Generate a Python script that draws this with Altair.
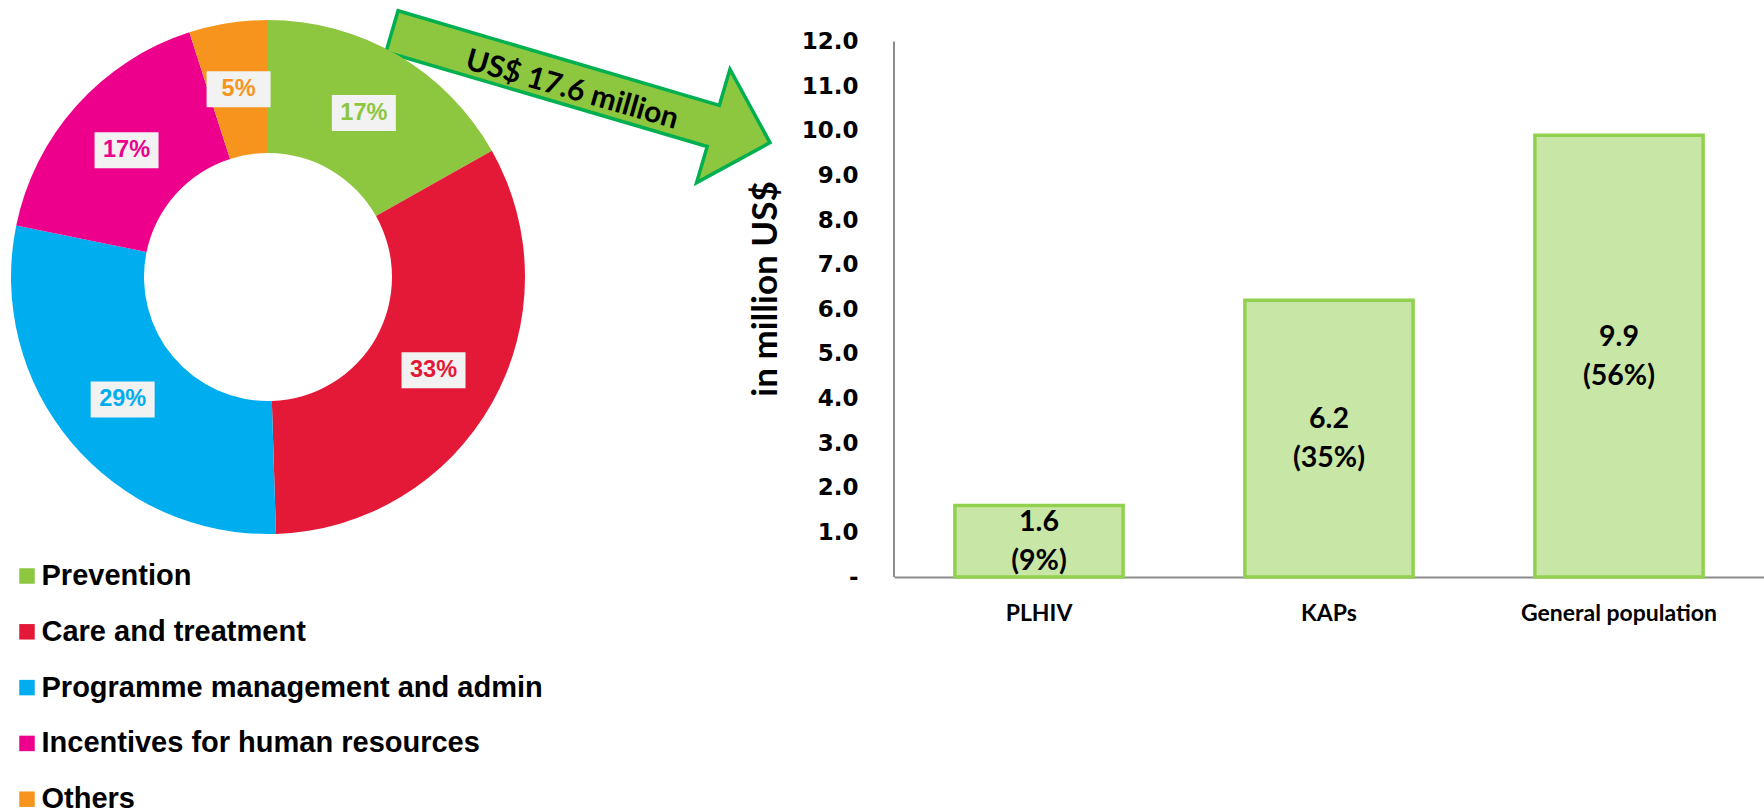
import altair as alt
import pandas as pd

# Share of spending by programme area (percent)
categories = [
    "Prevention",
    "Care and treatment",
    "Programme management and admin",
    "Incentives for human resources",
    "Others",
]
shares = [17, 33, 29, 17, 5]
category_colors = ["#8DC63F", "#E31937", "#00AEEF", "#EC008C", "#F7941D"]

# Prevention spending by population group, in million US$
groups = ["PLHIV", "KAPs", "General population"]
amounts = [1.6, 6.2, 9.9]
group_shares = [9, 35, 56]

total_label = "US$ 17.6 million"
y_ticks = list(range(0, 13))

# ---------------------------------------------------------------- donut
CX, CY = 268, 277          # donut centre (px)
R_OUT, R_IN, R_LAB = 257, 124, 190
BOX_W, BOX_H = 64, 36      # label background box

donut_df = pd.DataFrame({
    "category": categories,
    "share": shares,
    "hex": category_colors,
    "order": list(range(len(categories))),
})

color_scale = alt.Scale(domain=categories, range=category_colors)

arcs = alt.Chart(donut_df).mark_arc(innerRadius=R_IN, outerRadius=R_OUT).encode(
    theta=alt.Theta("share:Q", stack=True),
    order=alt.Order("order:Q"),
    color=alt.Color(
        "category:N",
        scale=color_scale,
        sort=categories,
        legend=alt.Legend(
            title=None,
            orient="none",
            legendX=12.5,
            legendY=561.5,
            direction="vertical",
            symbolType="square",
            symbolSize=240,
            symbolStrokeWidth=0,
            symbolOpacity=1,
            labelFont="Liberation Sans",
            labelFontWeight="bold",
            labelFontSize=29,
            labelColor="black",
            labelOffset=0,
            rowPadding=25.8,
            padding=0,
            labelLimit=800,
        ),
    ),
    x=alt.value(CX),
    y=alt.value(CY),
)

# label positions at the middle angle of each slice
label_base = alt.Chart(donut_df).transform_window(
    cum="sum(share)", sort=[alt.SortField("order")], frame=[None, 0]
).transform_joinaggregate(
    total="sum(share)"
).transform_calculate(
    mid="(datum.cum - datum.share / 2) / datum.total * 2 * PI",
    lx=f"{CX} + {R_LAB} * sin(datum.mid)",
    ly=f"{CY} - {R_LAB} * cos(datum.mid)",
    bx1=f"datum.lx - {BOX_W / 2}",
    bx2=f"datum.lx + {BOX_W / 2}",
    by1=f"datum.ly - {BOX_H / 2}",
    by2=f"datum.ly + {BOX_H / 2}",
    txt="datum.share + '%'",
)

label_boxes = label_base.mark_rect(fill="#F2F2F2").encode(
    x=alt.X("bx1:Q", scale=None, axis=None),
    x2="bx2:Q",
    y=alt.Y("by1:Q", scale=None, axis=None),
    y2="by2:Q",
)

label_texts = label_base.mark_text(
    font="Liberation Sans", fontWeight="bold", fontSize=23.5, baseline="middle"
).encode(
    x=alt.X("lx:Q", scale=None, axis=None),
    y=alt.Y("ly:Q", scale=None, axis=None),
    text="txt:N",
    color=alt.Color("hex:N", scale=None),
)

# block arrow pointing from the prevention slice to the bar chart
ARROW_PATH = "M-1,-0.109 L0.70,-0.109 L0.70,-0.30 L1,0 L0.70,0.30 L0.70,0.109 L-1,0.109 Z"
arrow_df = pd.DataFrame({"label": [total_label]})

arrow = alt.Chart(arrow_df).mark_point(
    shape=ARROW_PATH,
    size=394 ** 2,
    angle=16.4,
    filled=True,
    fill="#8DC63F",
    stroke="#00B050",
    strokeWidth=3.5,
    opacity=1,
    fillOpacity=1,
    strokeOpacity=1,
).encode(x=alt.value(581), y=alt.value(87))

arrow_text = alt.Chart(arrow_df).mark_text(
    font="Lato", fontWeight="bold", fontSize=30, angle=16, color="black",
    align="center", baseline="middle",
).encode(x=alt.value(572), y=alt.value(90), text="label:N")

left = alt.layer(arrow, arcs, label_boxes, label_texts, arrow_text).properties(
    width=560, height=577
)

# ---------------------------------------------------------------- bars
bar_df = pd.DataFrame({"group": groups, "amount": amounts, "pct": group_shares})

y_scale = alt.Scale(domain=[0, 12.93], nice=False, zero=True)
x_enc = alt.X(
    "group:N",
    sort=groups,
    scale=alt.Scale(paddingInner=0.42, paddingOuter=0.21),
    axis=alt.Axis(
        title=None,
        labelAngle=0,
        labelFont="Lato",
        labelFontWeight="bold",
        labelFontSize=23,
        labelColor="black",
        labelBaseline="middle",
        labelPadding=36,
        labelLimit=400,
        ticks=False,
        tickSize=0,
        domain=True,
        domainColor="#8C8C8C",
        domainWidth=2,
        grid=False,
    ),
)

bars = alt.Chart(bar_df).mark_bar(
    fill="#C8E7A7", stroke="#92D050", strokeWidth=3.5
).encode(
    x=x_enc,
    y=alt.Y(
        "amount:Q",
        scale=y_scale,
        axis=alt.Axis(
            values=y_ticks,
            labelExpr="datum.value == 0 ? '-' : format(datum.value, '.1f')",
            labelFont="DejaVu Sans",
            labelFontWeight="bold",
            labelFontSize=23,
            labelColor="black",
            labelPadding=36,
            ticks=False,
            tickSize=0,
            domain=False,
            grid=False,
            title="in million US$",
            titleFont="Lato",
            titleFontWeight="bold",
            titleFontSize=35,
            titleColor="black",
            titleX=-129,
            titleBaseline="middle",
        ),
    ),
)

# two-line label centred in each bar: amount above, share below
label_src = alt.Chart(bar_df).transform_calculate(
    mid="datum.amount / 2",
    amount_txt="format(datum.amount, '.1f')",
    pct_txt="'(' + datum.pct + '%)'",
)
label_style = dict(font="Lato", fontWeight="bold", fontSize=28.5,
                   baseline="middle", color="black")

amount_labels = label_src.mark_text(dy=-19.5, **label_style).encode(
    x=alt.X("group:N", sort=groups),
    y=alt.Y("mid:Q", scale=y_scale),
    text="amount_txt:N",
)
pct_labels = label_src.mark_text(dy=19.5, **label_style).encode(
    x=alt.X("group:N", sort=groups),
    y=alt.Y("mid:Q", scale=y_scale),
    text="pct_txt:N",
)

axis_df = pd.DataFrame({"lo": [y_ticks[0]], "hi": [y_ticks[-1]]})
y_line = alt.Chart(axis_df).mark_rule(color="#8C8C8C", strokeWidth=2).encode(
    x=alt.value(0),
    y=alt.Y("lo:Q", scale=y_scale),
    y2="hi:Q",
)

right = alt.layer(bars, amount_labels, pct_labels, y_line).properties(
    width=870, height=577
)

chart = alt.hconcat(
    left, right, spacing=334, bounds="flush", padding=0, background="white"
).configure_view(strokeWidth=0, stroke=None)

chart.save("out.html", embed_options={"renderer": "svg", "actions": False})
